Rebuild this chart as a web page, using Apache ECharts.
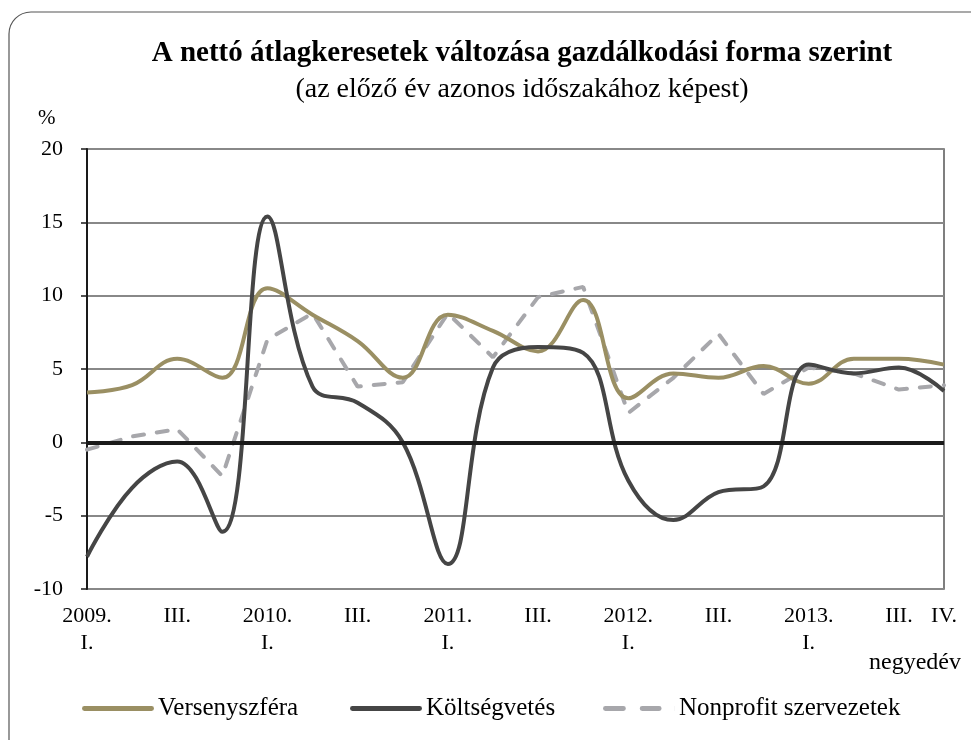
<!DOCTYPE html>
<html>
<head>
<meta charset="utf-8">
<script src="https://cdn.jsdelivr.net/npm/echarts@6/dist/echarts.min.js"></script>
<style>
html, body { margin: 0; padding: 0; background: #fff; }
#main { width: 971px; height: 740px; }
</style>
</head>
<body>
<div id="main"></div>
<script>
// negyedévek 2009 I. - 2013 IV.
var quarters = ['2009 I', '2009 II', '2009 III', '2009 IV',
    '2010 I', '2010 II', '2010 III', '2010 IV',
    '2011 I', '2011 II', '2011 III', '2011 IV',
    '2012 I', '2012 II', '2012 III', '2012 IV',
    '2013 I', '2013 II', '2013 III', '2013 IV'];
var tickLabels = ['2009.\nI.', '', 'III.', '', '2010.\nI.', '', 'III.', '', '2011.\nI.', '', 'III.', '',
    '2012.\nI.', '', 'III.', '', '2013.\nI.', '', 'III.', 'IV.'];

var versenyszfera = [3.4, 3.9, 5.7, 4.4, 10.5, 8.7, 6.9, 4.4, 8.7, 7.6, 6.2, 9.7, 3.0, 4.7, 4.4, 5.2, 4.0, 5.7, 5.7, 5.3];
var koltsegvetes = [-7.8, -3.1, -1.3, -6.1, 15.4, 3.8, 2.7, 0.0, -8.3, 5.1, 6.5, 6.1, -2.6, -5.3, -3.4, -3.0, 5.3, 4.7, 5.1, 3.5];
var nonprofit = [-0.5, 0.4, 0.9, -2.3, 7.0, 8.8, 3.8, 4.1, 8.8, 5.8, 9.9, 10.6, 2.0, 4.4, 7.4, 3.3, 5.1, 4.7, 3.6, 3.9];

var font = 'Liberation Serif';
var solidIcon = 'path://M2,0h68a2,2 0 0 1 0,5h-68a2,2 0 0 1 0,-5z';
var dashIcon = 'path://M2,0h18a2,2 0 0 1 0,5h-18a2,2 0 0 1 0,-5z M39,0h17a2,2 0 0 1 0,5h-17a2,2 0 0 1 0,-5z M71.9,0h0.1v5h-0.1z';

var chart = echarts.init(document.getElementById('main'));

function legendAt(left, name, icon) {
    return {
        left: left, top: 691,
        itemWidth: 72, itemHeight: 5, itemGap: 0,
        icon: icon,
        textStyle: { fontFamily: font, fontSize: 25, color: '#000', padding: [0, 0, 0, -1] },
        data: [name]
    };
}

var option = {
    backgroundColor: '#fff',
    animation: false,
    title: {
        text: 'A nettó átlagkeresetek változása gazdálkodási forma szerint',
        subtext: '(az előző év azonos időszakához képest)',
        left: 517,
        textAlign: 'center',
        top: 34,
        itemGap: 8,
        textStyle: { fontFamily: font, fontSize: 29, fontWeight: 'bold', color: '#000' },
        subtextStyle: { fontFamily: font, fontSize: 28, color: '#000' }
    },
    graphic: [
        {
            type: 'rect',
            shape: { x: 9, y: 12, width: 990, height: 760, r: 22 },
            style: { fill: 'none', stroke: '#555', lineWidth: 1.2 },
            silent: true
        },
        {
            type: 'text', left: 38, top: 108,
            style: { text: '%', font: '21px "Liberation Serif"', fill: '#000' }
        },
        {
            type: 'text', right: 10, top: 651,
            style: { text: 'negyedév', font: '24px "Liberation Serif"', fill: '#000' }
        }
    ],
    legend: [
        legendAt(77, 'Versenyszféra', solidIcon),
        legendAt(345, 'Költségvetés', solidIcon),
        legendAt(598, 'Nonprofit szervezetek', dashIcon)
    ],
    grid: {
        left: 87, right: 27, top: 149, bottom: 151,
        show: true, borderColor: '#555', borderWidth: 1.5
    },
    xAxis: {
        type: 'category',
        data: quarters,
        boundaryGap: false,
        axisLine: { show: false, onZero: false },
        axisTick: { show: false },
        axisLabel: {
            interval: 0,
            margin: 14,
            lineHeight: 27,
            fontFamily: font, fontSize: 22, color: '#000',
            formatter: function (v, i) { return tickLabels[i]; }
        }
    },
    yAxis: {
        type: 'value',
        min: -10, max: 20, interval: 5,
        axisLine: { show: true, lineStyle: { color: '#1a1a1a', width: 2 } },
        axisTick: { show: true, length: 6, lineStyle: { color: '#1a1a1a', width: 1.5 } },
        axisLabel: { margin: 24, fontFamily: font, fontSize: 22, color: '#000' },
        splitLine: { lineStyle: { color: '#888', width: 2 } }
    },
    series: [
        {
            name: 'Versenyszféra', type: 'line', data: versenyszfera,
            smooth: 0.4, symbol: 'none', z: 3,
            lineStyle: { color: '#9a8f63', width: 4 },
            itemStyle: { color: '#9a8f63' },
            markLine: {
                silent: true, symbol: 'none', label: { show: false },
                lineStyle: { color: '#1a1a1a', width: 4, type: 'solid' },
                data: [{ yAxis: 0 }]
            }
        },
        {
            name: 'Költségvetés', type: 'line', data: koltsegvetes,
            smooth: 0.4, symbol: 'none', z: 4,
            lineStyle: { color: '#454545', width: 4 },
            itemStyle: { color: '#454545' }
        },
        {
            name: 'Nonprofit szervezetek', type: 'line', data: nonprofit,
            symbol: 'none', z: 2,
            lineStyle: { color: '#a7a7ab', width: 4, type: [11, 13], cap: 'round' },
            itemStyle: { color: '#a7a7ab' }
        }
    ]
};

chart.setOption(option);
</script>
</body>
</html>
